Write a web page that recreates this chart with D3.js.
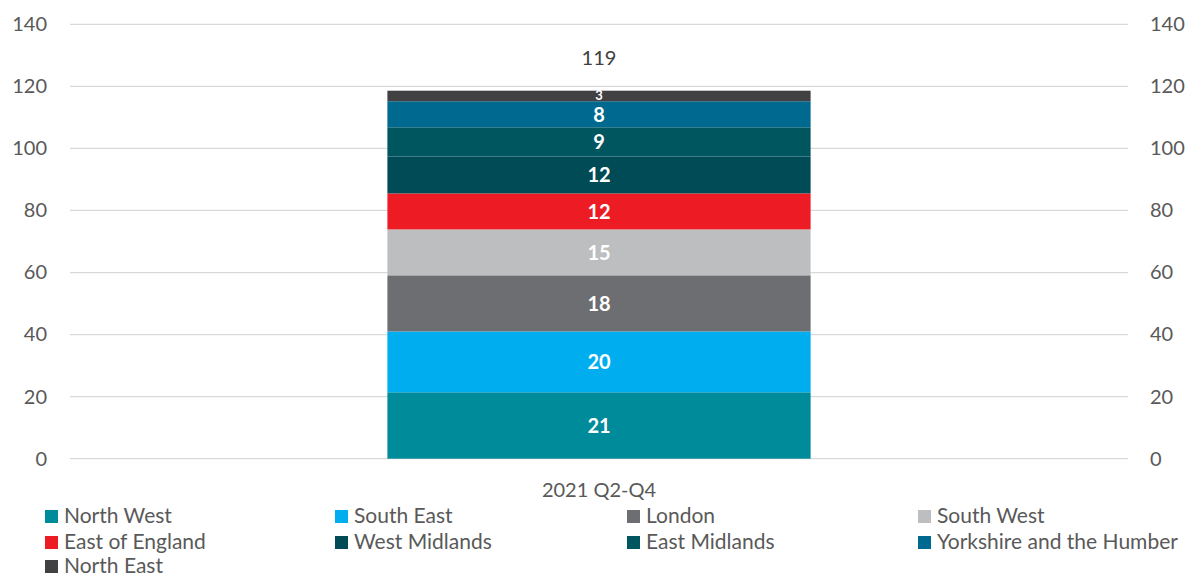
<!DOCTYPE html>
<html><head><meta charset="utf-8">
<script src="https://cdn.jsdelivr.net/npm/d3@7"></script>
<style>body{margin:0;background:#fff}svg{display:block}text{font-family:Lato,"Open Sans",sans-serif}</style>
</head><body><svg id="c" width="1202" height="580"></svg>
<script>
const categories = ["2021 Q2-Q4"];
const seriesNames = ["North West","South East","London","South West","East of England","West Midlands","East Midlands","Yorkshire and the Humber","North East"];
const seriesValues = [21.4,19.6,18.1,14.8,11.6,11.9,9.4,8.4,3.4];
const seriesColors = ["#008B9A","#00AEEF","#6D6E71","#BCBEC0","#ED1C24","#004B55","#00565F","#00698F","#414042"];
const yTicks = [0,20,40,60,80,100,120,140];

const svg = d3.select("#c");
const x0 = 70, x1 = 1128;
const y = d3.scaleLinear().domain([0,140]).range([458.7,24.3]);
const x = d3.scaleBand().domain(categories).range([x0,x1]).paddingInner(0.6).paddingOuter(0.3);

// gridlines
svg.append("g").selectAll("line").data(yTicks).join("line")
  .attr("x1",x0).attr("x2",x1).attr("y1",d=>y(d)).attr("y2",d=>y(d))
  .attr("stroke","#d9d9d9").attr("stroke-width",1.3);

// axes
const axL = svg.append("g").attr("transform",`translate(${x0},0)`)
  .call(d3.axisLeft(y).tickValues(yTicks).tickSize(0).tickPadding(23));
const axR = svg.append("g").attr("transform",`translate(${x1},0)`)
  .call(d3.axisRight(y).tickValues(yTicks).tickSize(0).tickPadding(22));
[axL,axR].forEach(a=>{a.select(".domain").remove();a.selectAll("text").attr("font-size",20).attr("fill","#595959").attr("font-family","Lato,'Open Sans',sans-serif");});

// stacked data
let cum = 0;
const stacked = seriesValues.map((v,i)=>{const d={name:seriesNames[i],v,y0:cum,y1:cum+v,color:seriesColors[i]};cum+=v;return d;});
const total = cum;
const cat = categories[0];

svg.append("g").selectAll("rect").data(stacked).join("rect")
  .attr("x",x(cat)).attr("width",x.bandwidth())
  .attr("y",d=>y(d.y1)).attr("height",d=>y(d.y0)-y(d.y1))
  .attr("fill",d=>d.color);

svg.append("g").selectAll("text").data(stacked).join("text")
  .attr("x",x(cat)+x.bandwidth()/2).attr("y",d=>y((d.y0+d.y1)/2)+(d.v<5?4:7.5))
  .attr("text-anchor","middle").attr("font-size",d=>d.v<5?13:20).attr("font-weight","bold").attr("fill","#fff")
  .text(d=>Math.round(d.v));

svg.append("text").attr("x",x(cat)+x.bandwidth()/2).attr("y",y(total)-26)
  .attr("text-anchor","middle").attr("font-size",20).attr("fill","#404040").text(Math.round(total));

// category label
svg.append("text").attr("x",x(cat)+x.bandwidth()/2).attr("y",497)
  .attr("text-anchor","middle").attr("font-size",20).attr("fill","#595959").text(cat);

// legend
const colX = [45,335,627,918];
const rowY = [516,542,566];
const lg = svg.append("g").selectAll("g").data(stacked).join("g")
  .attr("transform",(d,i)=>`translate(${colX[i%4]},${rowY[Math.floor(i/4)]})`);
lg.append("rect").attr("x",0).attr("y",-6).attr("width",13).attr("height",13).attr("fill",d=>d.color);
lg.append("text").attr("x",19).attr("y",7).attr("font-size",21).attr("fill","#595959").text(d=>d.name);
</script></body></html>
